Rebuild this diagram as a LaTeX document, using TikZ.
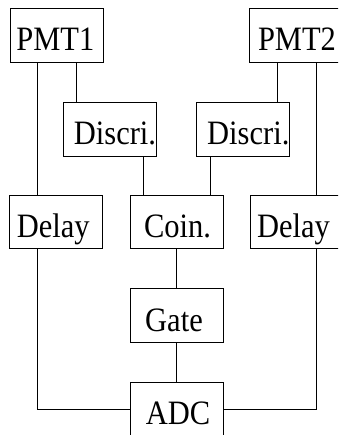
\documentclass[tikz,border=0pt]{standalone}
\usepackage{graphicx}
\usepackage{fontspec}
\setmainfont{Liberation Serif}
% labels are set a little taller than the font's natural shape
\newcommand{\tallbox}[1]{\scalebox{1}[1.12]{#1}}
\begin{document}
\begin{tikzpicture}[x=1pt,y=-1pt,
  unit/.style={draw, line width=1pt, minimum width=93pt, minimum height=53.5pt,
    inner sep=0pt, text height=31pt, text depth=0pt,
    font=\fontsize{30.5}{36}\selectfont},
  wire/.style={line width=1pt}]
\useasboundingbox (0,0) rectangle (338,435);
\clip (0,0) rectangle (338,435);

% detectors
\node[unit] (pmtA) at (56.5,35.5) {\hspace*{-2.4pt}\tallbox{PMT1}};
\node[unit] (pmtB) at (295.5,35.5) {\hspace*{3pt}\tallbox{PMT2}};

% discriminators
\node[unit] (discA) at (110,129.5) {\hspace*{10pt}\tallbox{Discri.}};
\node[unit] (discB) at (243.3,129.5) {\hspace*{10pt}\tallbox{Discri.}};

% delays and coincidence
\node[unit] (delA) at (56.3,222) {\hspace*{-6pt}\tallbox{Delay}};
\node[unit] (coin) at (176.5,222) {\hspace*{2pt}\tallbox{Coin.}};
\node[unit] (delB) at (296.5,222) {\hspace*{-6pt}\tallbox{Delay}};

% gate and converter
\node[unit] (gate) at (176.5,315.5) {\hspace*{-5pt}\tallbox{Gate}};
\node[unit] (adc) at (176.5,409) {\hspace*{3pt}\tallbox{ADC}};

% signal paths
\draw[wire] ([xshift=-19.5pt]pmtA.south) -- ([xshift=-19.5pt]pmtA.south |- delA.north);
\draw[wire] ([xshift=20.2pt]pmtA.south) -- ([xshift=20.2pt]pmtA.south |- discA.north);
\draw[wire] ([xshift=-18.2pt]pmtB.south) -- ([xshift=-18.2pt]pmtB.south |- discB.north);
\draw[wire] ([xshift=21.2pt]pmtB.south) -- ([xshift=21.2pt]pmtB.south |- delB.north);
\draw[wire] ([xshift=33.3pt]discA.south) -- ([xshift=33.3pt]discA.south |- coin.north);
\draw[wire] ([xshift=-32.6pt]discB.south) -- ([xshift=-32.6pt]discB.south |- coin.north);
\draw[wire] (coin) -- (gate);
\draw[wire] (gate) -- (adc);
\draw[wire] ([xshift=-19.3pt]delA.south) |- (adc.west);
\draw[wire] ([xshift=20.2pt]delB.south) |- (adc.east);
\end{tikzpicture}
\end{document}
